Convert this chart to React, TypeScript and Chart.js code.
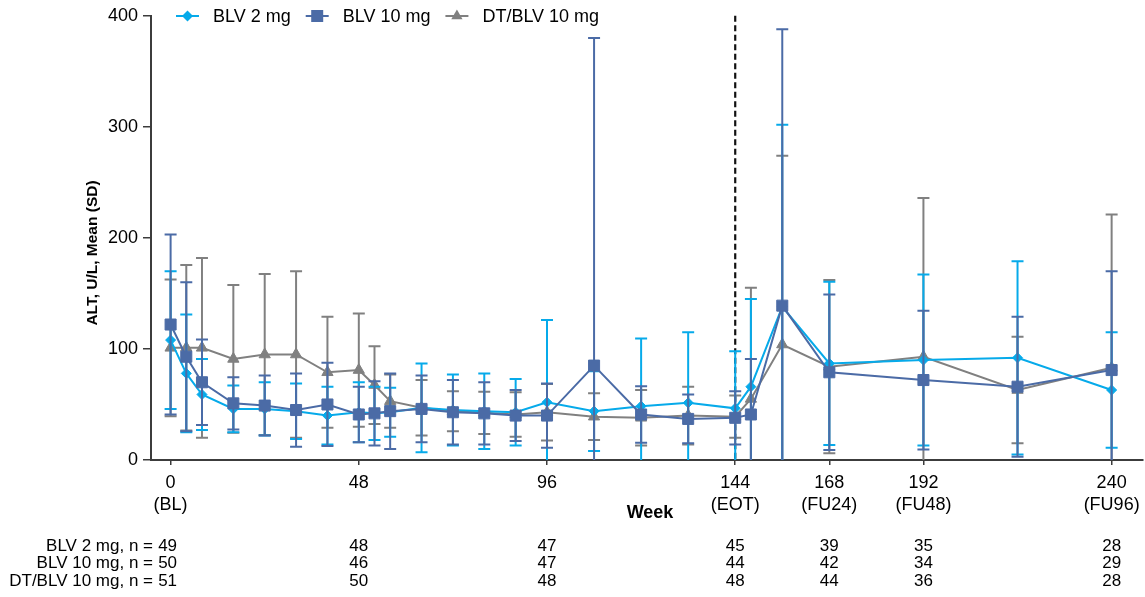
import React, { useEffect, useRef } from "react";
import { Chart, registerables } from "chart.js";

Chart.register(...registerables);

const FONT = "'Liberation Sans', Arial, Helvetica, sans-serif";

// ---- data ----
const weeks = [0, 4, 8, 16, 24, 32, 40, 48, 52, 56, 64, 72, 80, 88, 96, 108, 120, 132, 144, 148, 156, 168, 192, 216, 240];
const seriesNames = ["BLV 2 mg", "BLV 10 mg", "DT/BLV 10 mg"];

const blv2Mean = [108, 78, 59, 46, 46, 44, 40, 43, 42, 43, 47, 45, 44, 43, 52, 44, 48.5, 51.5, 46.5, 66, 138, 87, 90, 92, 63];
const blv2Sd = [62, 53, 32, 21, 24, 25, 26, 27, 24, 22, 40, 32, 34, 30, 74, 36, 61, 63.5, 51.5, 79, 164, 73.5, 77, 87, 52];

const blv10Mean = [122, 93, 70, 51, 49, 45, 50, 41, 42, 44, 46, 43, 42, 40, 40, 85, 41, 37, 38, 41, 139, 79, 72, 66, 81];
const blv10Sd = [81, 67, 38.5, 23.5, 27, 33, 37.5, 25, 29, 34, 30, 29, 28, 23, 29, 295, 25.5, 22, 24, 50, 249, 70, 62.5, 63, 89];

const dtMean = [101, 101, 101, 91, 95, 95, 79, 81, 67.5, 53, 47, 44, 42.5, 41, 43, 39, 38, 40, 39, 55, 104, 84, 93, 63, 83];
const dtSd = [61.5, 74.5, 81, 66.5, 72.5, 75, 50, 51, 35, 24, 25, 18, 19, 20, 25.5, 21, 25, 26, 19, 100, 170, 78, 143, 48, 138];

const xTickWeeks = [0, 48, 96, 144, 168, 192, 240];
const xTickLabels = [["0", "(BL)"], ["48"], ["96"], ["144", "(EOT)"], ["168", "(FU24)"], ["192", "(FU48)"], ["240", "(FU96)"]];
const yTickValues = [0, 100, 200, 300, 400];
const eotWeek = 144;

const tableWeeks = [0, 48, 96, 144, 168, 192, 240];
const nBlv2 = [49, 48, 47, 45, 39, 35, 28];
const nBlv10 = [50, 46, 47, 44, 42, 34, 29];
const nDt = [51, 50, 48, 48, 44, 36, 28];

const yTitle = "ALT, U/L, Mean (SD)";
const xTitle = "Week";

// ---- styles ----
const COLORS = ["#06AAEA", "#4B6BA6", "#808080"];
const AXIS = "#3C3C3C";

function drawMarker(ctx: CanvasRenderingContext2D, style: string, x: number, y: number, color: string) {
  ctx.fillStyle = color;
  ctx.beginPath();
  if (style === "rectRot") {
    const r = 5.5;
    ctx.moveTo(x - r, y); ctx.lineTo(x, y - r); ctx.lineTo(x + r, y); ctx.lineTo(x, y + r);
  } else if (style === "rect") {
    const s = 6;
    ctx.rect(x - s, y - s, 2 * s, 2 * s);
  } else {
    const r = 6.5;
    ctx.moveTo(x, y - r);
    ctx.lineTo(x + r * Math.sin((2 * Math.PI) / 3), y - r * Math.cos((2 * Math.PI) / 3));
    ctx.lineTo(x + r * Math.sin((4 * Math.PI) / 3), y - r * Math.cos((4 * Math.PI) / 3));
  }
  ctx.closePath();
  ctx.fill();
}

const errorBarPlugin = {
  id: "errorBars",
  beforeDatasetDraw(chart: any, args: any) {
    const ds = chart.data.datasets[args.index];
    const sd: number[] = ds.sd;
    if (!sd) return;
    const meta = args.meta;
    const yScale = chart.scales.y;
    const area = chart.chartArea;
    const ctx = chart.ctx as CanvasRenderingContext2D;
    ctx.save();
    ctx.beginPath();
    ctx.rect(area.left, area.top - 1, area.right - area.left, area.bottom - area.top + 1);
    ctx.clip();
    ctx.strokeStyle = ds.borderColor;
    ctx.lineWidth = 2;
    meta.data.forEach((pt: any, i: number) => {
      const v = ds.data[i].y;
      const s = sd[i];
      const yTop = yScale.getPixelForValue(v + s);
      const yBot = yScale.getPixelForValue(v - s);
      const x = pt.x;
      ctx.beginPath();
      ctx.moveTo(x, yTop); ctx.lineTo(x, yBot);
      ctx.moveTo(x - 6, yTop); ctx.lineTo(x + 6, yTop);
      ctx.moveTo(x - 6, yBot); ctx.lineTo(x + 6, yBot);
      ctx.stroke();
    });
    ctx.restore();
  },
};

const eotPlugin = {
  id: "eotLine",
  beforeDatasetsDraw(chart: any) {
    const ctx = chart.ctx as CanvasRenderingContext2D;
    const x = chart.scales.x.getPixelForValue(eotWeek);
    const area = chart.chartArea;
    ctx.save();
    ctx.strokeStyle = "#111";
    ctx.lineWidth = 2.2;
    ctx.setLineDash([6, 3.5]);
    ctx.beginPath();
    ctx.moveTo(x, area.top);
    ctx.lineTo(x, area.bottom);
    ctx.stroke();
    ctx.restore();
  },
};

const annotPlugin = {
  id: "annotations",
  afterDraw(chart: any) {
    const ctx = chart.ctx as CanvasRenderingContext2D;
    const xs = chart.scales.x;
    const area = chart.chartArea;
    ctx.save();
    // legend
    ctx.font = `18px ${FONT}`;
    ctx.textBaseline = "middle";
    ctx.textAlign = "left";
    let lx = 176;
    const ly = 16;
    chart.data.datasets.forEach((ds: any) => {
      ctx.strokeStyle = ds.borderColor;
      ctx.lineWidth = 2;
      ctx.beginPath();
      ctx.moveTo(lx, ly); ctx.lineTo(lx + 23, ly);
      ctx.stroke();
      drawMarker(ctx, ds.pointStyle, lx + 11.5, ly, ds.borderColor);
      ctx.fillStyle = "#000";
      ctx.fillText(ds.label, lx + 37, ly + 1);
      lx += 37 + ctx.measureText(ds.label).width + 15;
    });

    // x tick labels
    ctx.font = `18px ${FONT}`;
    ctx.fillStyle = "#000";
    ctx.textAlign = "center";
    ctx.textBaseline = "middle";
    xTickWeeks.forEach((w, i) => {
      const px = xs.getPixelForValue(w);
      xTickLabels[i].forEach((line, j) => {
        ctx.fillText(line, px, area.bottom + 23 + j * 22);
      });
    });

    // y title
    ctx.save();
    ctx.font = `bold 15.5px ${FONT}`;
    ctx.fillStyle = "#000";
    ctx.textAlign = "center";
    ctx.textBaseline = "middle";
    ctx.translate(92.5, 253);
    ctx.rotate(-Math.PI / 2);
    ctx.fillText(yTitle, 0, 0);
    ctx.restore();

    // x title
    ctx.font = `bold 18px ${FONT}`;
    ctx.fillStyle = "#000";
    ctx.textAlign = "center";
    ctx.textBaseline = "middle";
    ctx.fillText(xTitle, (area.left + area.right) / 2 + 3, 513);

    // n table
    const rows = [nBlv2, nBlv10, nDt];
    const rowY = [546, 563.5, 581];
    ctx.font = `17px ${FONT}`;
    rows.forEach((vals, r) => {
      ctx.textAlign = "right";
      ctx.fillText(`${seriesNames[r]}, n =`, 153, rowY[r]);
      ctx.textAlign = "center";
      vals.forEach((v, i) => {
        let px = xs.getPixelForValue(tableWeeks[i]);
        if (i === 0) px -= 3;
        ctx.fillText(String(v), px, rowY[r]);
      });
    });
    ctx.restore();
  },
};

export default function App() {
  const ref = useRef<HTMLCanvasElement>(null);
  useEffect(() => {
    document.body.style.margin = "0";
    const canvas = ref.current!;
    const toPts = (m: number[]) => m.map((y, i) => ({ x: weeks[i], y }));
    const mk = (i: number, mean: number[], sd: number[], style: string, radius: number, order: number) => ({
      label: seriesNames[i],
      data: toPts(mean),
      sd,
      borderColor: COLORS[i],
      backgroundColor: COLORS[i],
      pointBackgroundColor: COLORS[i],
      pointBorderColor: COLORS[i],
      pointBorderWidth: 1,
      pointStyle: style,
      pointRadius: radius,
      borderWidth: 2,
      tension: 0,
      order,
    });
    const chart = new Chart(canvas, {
      type: "line",
      data: {
        datasets: [
          mk(0, blv2Mean, blv2Sd, "rectRot", 5, 1),
          mk(1, blv10Mean, blv10Sd, "rect", 7.8, 0),
          mk(2, dtMean, dtSd, "triangle", 6.5, 2),
        ] as any,
      },
      options: {
        animation: false,
        responsive: false,
        layout: { autoPadding: false, padding: { top: 15, right: 2, left: 0, bottom: 0 } },
        plugins: { legend: { display: false }, tooltip: { enabled: false } },
        scales: {
          x: {
            type: "linear",
            min: -5,
            max: 248,
            afterBuildTicks: (s: any) => {
              s.ticks = xTickWeeks.map((v) => ({ value: v }));
            },
            afterFit: (s: any) => {
              s.height = 137;
            },
            ticks: { display: false },
            grid: { drawOnChartArea: false, drawTicks: true, tickLength: 5, color: AXIS, lineWidth: 1.5 },
            border: { display: true, color: AXIS, width: 2 },
          },
          y: {
            type: "linear",
            min: 0,
            max: 400,
            afterBuildTicks: (s: any) => {
              s.ticks = yTickValues.map((v) => ({ value: v }));
            },
            afterFit: (s: any) => {
              s.width = 151;
            },
            ticks: {
              padding: 5,
              color: "#000",
              font: { family: FONT, size: 18 },
            },
            grid: { drawOnChartArea: false, drawTicks: true, tickLength: 8, color: AXIS, lineWidth: 1.5 },
            border: { display: true, color: AXIS, width: 2 },
          },
        },
      } as any,
      plugins: [errorBarPlugin, eotPlugin, annotPlugin],
    });
    return () => chart.destroy();
  }, []);
  return (
    <div style={{ width: 1145, height: 597 }}>
      <canvas ref={ref} width={1145} height={597} style={{ display: "block" }} />
    </div>
  );
}
